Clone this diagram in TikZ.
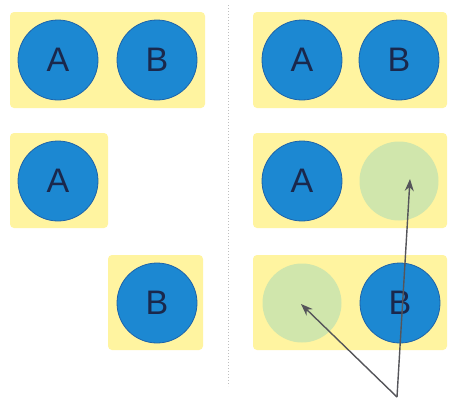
\documentclass[tikz,border=0pt]{standalone}
\usepackage{fontspec}
\setsansfont{Liberation Sans}
\usetikzlibrary{arrows.meta}
\definecolor{boxyellow}{RGB}{255,244,160}
\definecolor{cblue}{RGB}{28,136,210}
\definecolor{cedge}{RGB}{30,100,170}
\definecolor{cgreen}{RGB}{208,230,172}
\definecolor{letter}{RGB}{26,40,76}
\definecolor{arrowgrey}{RGB}{85,85,90}
\tikzset{
  ybox/.style={fill=boxyellow, draw=none, rounded corners=4pt},
  bcirc/.style={circle, fill=cblue, draw=cedge, line width=0.8pt, minimum size=80pt, inner sep=0pt,
    text=letter, font=\fontsize{34}{34}\selectfont\sffamily},
  gcirc/.style={circle, fill=cgreen, draw=none, minimum size=79pt, inner sep=0pt},
  pointer/.style={draw=arrowgrey, line width=1.4pt, -{Stealth[length=12pt,width=9pt]}},
  divider/.style={draw=gray!50, line width=1pt, dotted}
}
\begin{document}
\begin{tikzpicture}[x=1pt,y=-1pt]
\useasboundingbox[fill=white] (0,0) rectangle (450,400);
% divider
\coordinate (dtop) at (228,5);
\coordinate (dbot) at (228,386);
\draw[divider] (dtop) -- (dbot);
% yellow boxes
\fill[ybox] (10,12) rectangle (205,108);
\fill[ybox] (253,12) rectangle (447,108);
\fill[ybox] (10,133) rectangle (108,228);
\fill[ybox] (253,133) rectangle (447,228);
\fill[ybox] (108,255) rectangle (203,350);
\fill[ybox] (253,255) rectangle (447,350);
% left column
\node[bcirc] (la1) at (58,60) {A};
\node[bcirc] (lb1) at (157,60) {B};
\node[bcirc] (la2) at (58,181) {A};
\node[bcirc] (lb3) at (157,303) {B};
% right column
\node[bcirc] (ra1) at (302,60) {A};
\node[bcirc] (rb1) at (399,60) {B};
\node[bcirc] (ra2) at (302,181) {A};
\node[gcirc] (rg2) at (399,181) {};
\node[gcirc] (rg3) at (302,303) {};
\node[bcirc] (rb3) at (400,303) {B};
% arrows
\coordinate (src) at (397,397);
\coordinate (t1) at (410,179);
\coordinate (t2) at (301,304);
\draw[pointer] (src) -- (t1);
\draw[pointer] (src) -- (t2);
\end{tikzpicture}
\end{document}
